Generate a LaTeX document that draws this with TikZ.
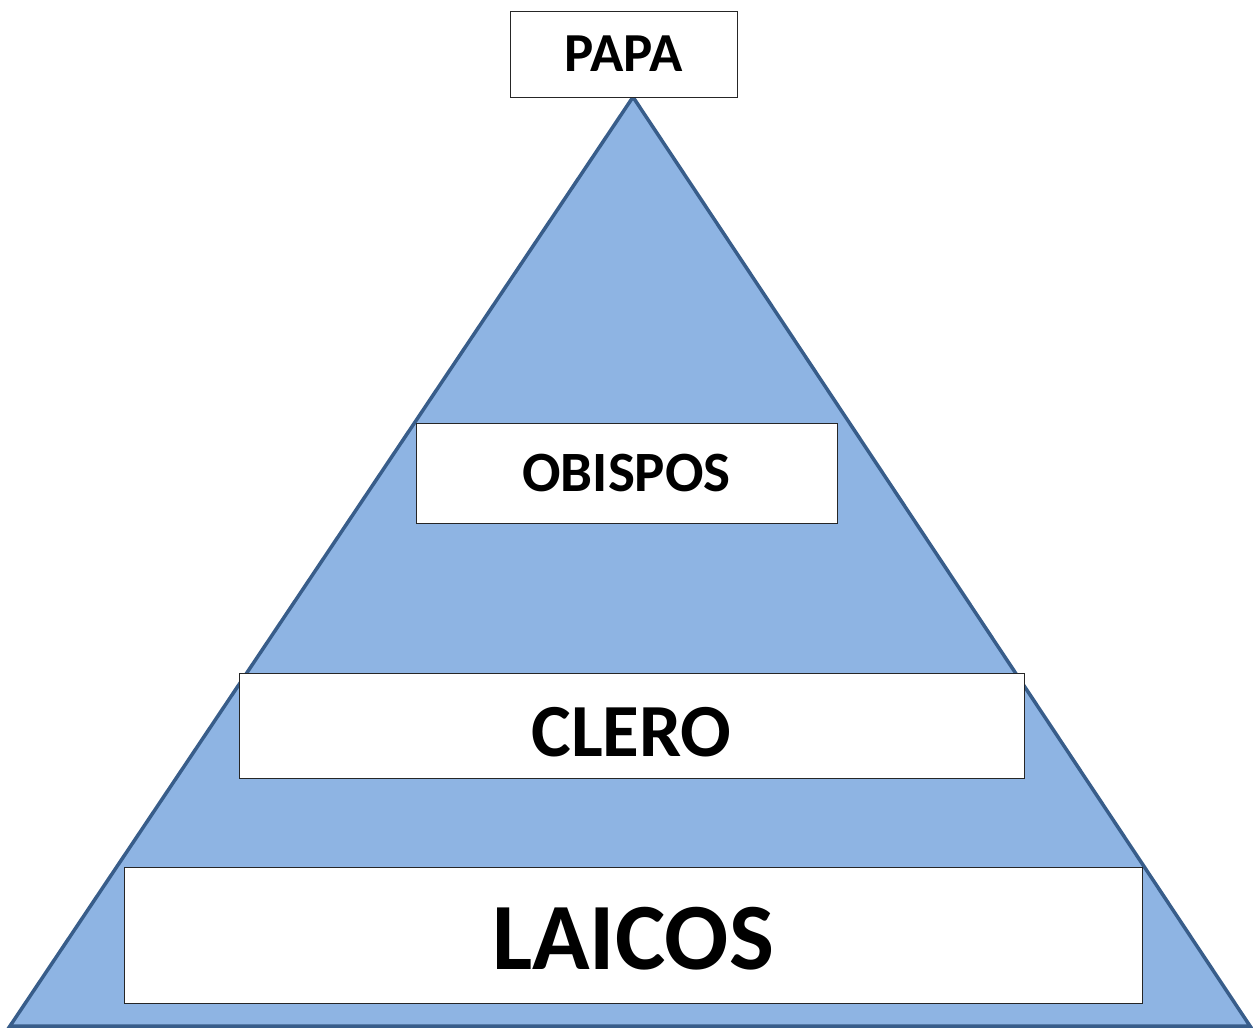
\documentclass[tikz,border=0pt]{standalone}
\usepackage{fontspec}
\setmainfont{Carlito}
\definecolor{borde}{RGB}{56,93,138}
\definecolor{relleno}{RGB}{142,180,227}

\begin{document}
\begin{tikzpicture}[x=1pt,y=-1pt]
        \tikzstyle{every node}+=[inner sep=0pt]
        \tikzstyle{rango}=[draw=black!85,fill=white,line width=1pt,font=\bfseries]
        \useasboundingbox (0,0) rectangle (1253,1028);
        \filldraw [fill=relleno,draw=borde,line width=3.5pt,line join=miter] (633,97) -- (10,1026) -- (1250,1026) -- cycle;
        \node [rango,minimum width=227,minimum height=86] (papa) at (623.5,54) {\fontsize{55}{60}\selectfont PAPA};
        \node [rango,minimum width=421,minimum height=100] (obispos) at (626.5,473) {\fontsize{57}{62}\selectfont OBISPOS};
        \node [rango,minimum width=785,minimum height=105,text height=62pt,text depth=0pt] (clero) at (631.5,725.5) {\fontsize{75}{80}\selectfont CLERO};
        \node [rango,minimum width=1018,minimum height=136,text height=69pt,text depth=0pt] (laicos) at (633,935) {\fontsize{95}{100}\selectfont LAICOS};
\end{tikzpicture}
\end{document}
